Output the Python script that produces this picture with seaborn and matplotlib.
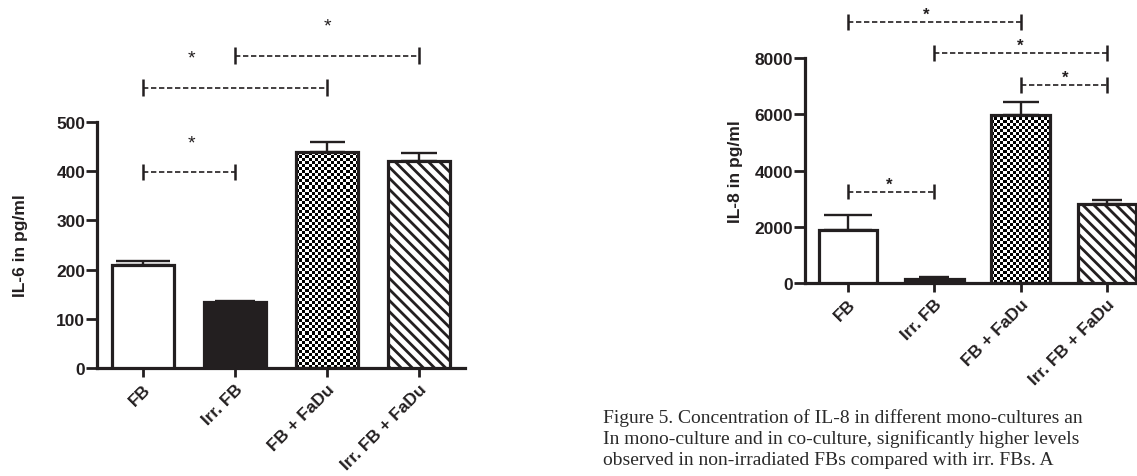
import numpy as np
import pandas as pd
import matplotlib
matplotlib.use("Agg")
import matplotlib.pyplot as plt
import seaborn as sns

# ---------------- data ----------------
categories = ["FB", "Irr. FB", "FB + FaDu", "Irr. FB + FaDu"]
il6_mean = [210, 134, 439, 421]
il6_sem = [7, 3, 20, 16]
il8_mean = [1880, 150, 5980, 2810]
il8_sem = [540, 70, 450, 140]

il6_ticks = [0, 100, 200, 300, 400, 500]
il8_ticks = [0, 2000, 4000, 6000, 8000]

il6_label = "IL-6 in pg/ml"
il8_label = "IL-8 in pg/ml"

# significance brackets: (from group, to group, bracket level, star position)
il6_sig = [(0, 1, 398, 0.53), (0, 2, 570, 0.53), (1, 3, 635, 2.01)]
il8_sig = [(0, 2, 9280, 0.9), (1, 3, 8180, 2.0), (2, 3, 7040, 2.52),
           (0, 1, 3240, 0.48)]

fills = ["white", "black", "checker", "hatch"]

caption_lines = [
    "Figure 5. Concentration of IL-8 in different mono-cultures an",
    "In mono-culture and in co-culture, significantly higher levels",
    "observed in non-irradiated FBs compared with irr. FBs. A",
]

# ---------------- style ----------------
INK = "#231f20"
sns.set_style("ticks")
plt.rcParams["font.family"] = ["Liberation Sans", "DejaVu Sans"]
plt.rcParams["hatch.linewidth"] = 2.0
plt.rcParams["hatch.color"] = INK

fig = plt.figure(figsize=(11.37, 4.77), dpi=100)
ax6 = fig.add_axes([0.0853, 0.2264, 0.3237, 0.5157])
ax8 = fig.add_axes([0.708, 0.4046, 0.3034, 0.4717])


def draw_panel(ax, means, sems, ticks, ylabel, sig, caps, star_off, star_kw,
               tick_h, label_x):
    df = pd.DataFrame({"group": categories, "value": means})
    sns.barplot(data=df, x="group", y="value", order=categories, errorbar=None,
                width=0.68, color="white", edgecolor=INK, linewidth=2.3,
                ax=ax, zorder=3)
    ax.set_xlim(-0.5, 3.5)
    ax.set_ylim(ticks[0], ticks[-1])
    pos = np.arange(len(categories))
    for k in range(len(categories)):
        ax.errorbar([pos[k]], [means[k]], yerr=[[0], [sems[k]]], fmt="none",
                    ecolor=INK, elinewidth=1.7, capsize=caps[k], capthick=1.7,
                    zorder=2)
    for p, f in zip(ax.patches, fills):
        if f == "black":
            p.set_facecolor(INK)
        elif f == "hatch":
            p.set_facecolor("white")
            p.set_hatch("\\\\\\")
        elif f == "checker":
            p.set_facecolor("none")
            x0, w, h = p.get_x(), p.get_width(), p.get_height()
            (px0, py0), (px1, py1) = ax.transData.transform([(x0, 0), (x0 + w, h)])
            nc = max(int(abs(px1 - px0) / 3.0), 1)
            nr = max(int(abs(py1 - py0) / 3.0), 1)
            board = np.add.outer(np.arange(nr), np.arange(nc)) % 2
            im = ax.imshow(board, cmap="gray", extent=[x0, x0 + w, 0, h],
                           aspect="auto", interpolation="nearest", zorder=1,
                           vmin=0, vmax=1)
            im.set_clip_path(p)
    ax.set_xlim(-0.5, 3.5)
    ax.set_ylim(ticks[0], ticks[-1])

    # significance brackets
    for i, j, y, sx in sig:
        ax.plot([i, j], [y, y], color=INK, lw=1.2, ls=(0, (3.2, 1.6)),
                clip_on=False, zorder=4)
        for xx in (i, j):
            ax.plot([xx, xx], [y - tick_h / 2, y + tick_h / 2], color=INK,
                    lw=1.8, clip_on=False, solid_capstyle="butt", zorder=4)
        ax.annotate("*", xy=(sx, y), xytext=(0, star_off),
                    textcoords="offset points", ha="center", va="baseline",
                    color=INK, annotation_clip=False, **star_kw)

    sns.despine(ax=ax)
    for s in ("left", "bottom"):
        ax.spines[s].set_linewidth(2.3)
        ax.spines[s].set_color(INK)
    ax.set_yticks(ticks)
    ax.set_yticklabels([str(t) for t in ticks])
    ax.set_xticks(pos)
    ax.set_xticklabels(categories, rotation=45, ha="right",
                       rotation_mode="anchor")
    ax.tick_params(axis="y", length=8, width=2.0, color=INK, pad=0.5,
                   labelsize=12.5, labelcolor=INK)
    ax.tick_params(axis="x", length=6.5, width=2.0, color=INK, pad=3,
                   labelsize=12.5, labelcolor=INK)
    for lab in ax.get_xticklabels() + ax.get_yticklabels():
        lab.set_fontweight("bold")
    ax.set_xlabel("")
    ax.set_ylabel(ylabel, fontsize=12.5, fontweight="bold", color=INK)
    ax.yaxis.set_label_coords(label_x, 0.5)


draw_panel(ax6, il6_mean, il6_sem, il6_ticks, il6_label, il6_sig,
           caps=[19.5, 14.4, 12.6, 13.0],
           star_off=18, star_kw=dict(fontsize=14), tick_h=33, label_x=-0.1875)
draw_panel(ax8, il8_mean, il8_sem, il8_ticks, il8_label, il8_sig,
           caps=[17.6, 10.8, 13.3, 10.8],
           star_off=2, star_kw=dict(fontsize=12, fontweight="bold"),
           tick_h=540, label_x=-0.18)

ys = [0.1132, 0.0685, 0.0252]
for line, y in zip(caption_lines, ys):
    fig.text(0.5303, y, line, ha="left", va="baseline", fontsize=14,
             family=["Liberation Serif", "DejaVu Serif"], color="#2a2a2a")

fig.savefig("out.png", dpi=100)
